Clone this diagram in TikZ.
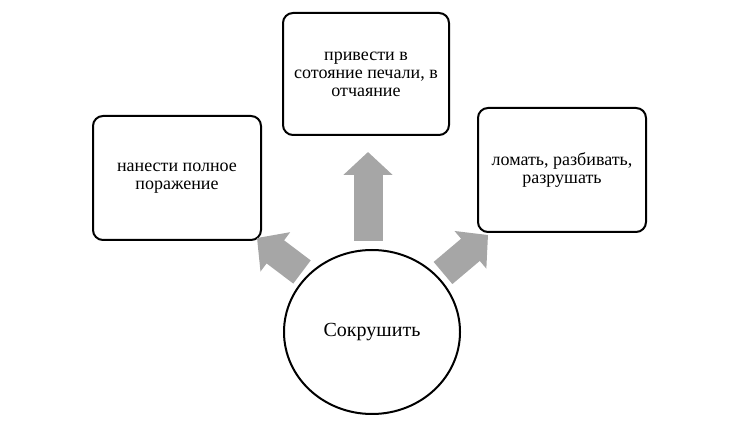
\documentclass[tikz,border=0pt]{standalone}
\usepackage{fontspec}
\setmainfont{Liberation Serif}
\usetikzlibrary{positioning, arrows.meta, shapes.geometric}
\definecolor{arrowGray}{RGB}{166,166,166}
\tikzset{
    every node/.style={font=\fontsize{18}{18}\selectfont}, % sets the font for every node
    every picture/.style={line width=2pt}, % makes the borders bold
}

\begin{document}
\begin{tikzpicture}[
                        x=1pt, y=1pt,
                        styleBox/.style={draw, rounded corners=10pt, minimum width=168pt, minimum height=124pt, align=center},
                        styleCircle/.style={ellipse, draw, minimum width=176pt, minimum height=164pt, font=\fontsize{20}{20}\selectfont},
                        styleArrow/.style={arrowGray, line width=29pt, -{Triangle[length=23pt, width=48pt]}},
                    ]
                    \useasboundingbox (0,0) rectangle (730,425);
                    \node[styleCircle] (sokr) at (372,93) {Сокрушить};
                    \node[styleBox] (sokrDefeat) at (177,247) {нанести полное\\поражение};
                    \node[styleBox, minimum width=166pt, minimum height=122pt] (sokrDespair) at (366,351) {привести в\\сотояние печали, в\\отчаяние};
                    \node[styleBox] (sokrBreak) at (562,255) {ломать, разбивать,\\разрушать};
                    \draw[styleArrow] ([shift={(-4,8)}]sokr.north) -- ([shift={(2,-16)}]sokrDespair.south);
                    \draw[styleArrow] ([shift={(-70,60)}]sokr.center) -- ([shift={(-5,3)}]sokrDefeat.south east);
                    \draw[styleArrow] ([shift={(71,59)}]sokr.center) -- ([shift={(11,-2)}]sokrBreak.south west);
                \end{tikzpicture}
\end{document}
